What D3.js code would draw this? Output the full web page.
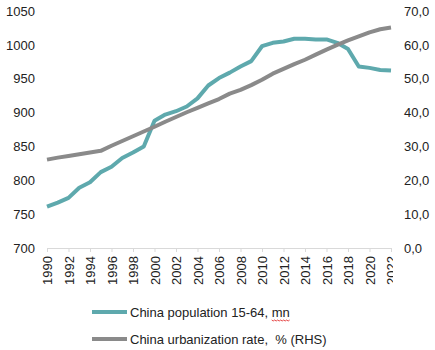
<!DOCTYPE html>
<html lang="en">
<head>
<meta charset="UTF-8">
<title>China population and urbanization</title>
<style>
body { margin: 0; background: #fff; }
svg { font-family: "Liberation Sans", Arial, sans-serif; }
.axis text { font-size: 13px; fill: #222; }
.legend text { font-size: 13px; fill: #222; }
</style>
</head>
<body>
<svg width="435" height="350"></svg>
<script src="https://cdn.jsdelivr.net/npm/d3@7/dist/d3.min.js"></script>
<script>
// data
const years = d3.range(1990, 2023);
const population = [761, 767, 774, 789, 797, 812, 820, 833, 841, 850,
    888, 897, 902, 909, 921, 940, 951, 959, 968, 976,
    998, 1003, 1005, 1009, 1009, 1008, 1008, 1003, 994, 968,
    966, 963, 962];
const urbanization = [26.1, 26.7, 27.2, 27.7, 28.2, 28.7, 30.2, 31.6, 33.0, 34.4,
    35.8, 37.3, 38.7, 40.1, 41.4, 42.7, 44.0, 45.6, 46.7, 48.1,
    49.7, 51.5, 52.9, 54.3, 55.6, 57.1, 58.6, 60.0, 61.3, 62.5,
    63.7, 64.6, 65.1];
const leftTicks = [700, 750, 800, 850, 900, 950, 1000, 1050];
const rightTicks = [0, 10, 20, 30, 40, 50, 60, 70];
const yearTicks = d3.range(1990, 2023, 2);
const seriesNames = ['China population 15-64, mn', 'China urbanization rate,  % (RHS)'];
const colors = ['#5ea9ad', '#8a8a8a'];

var svg = d3.select('svg');
var margin = { left: 47, right: 44, top: 11, bottom: 102 };
var width = 435 - margin.left - margin.right;
var height = 350 - margin.top - margin.bottom;

var x = d3.scaleLinear().domain([1990, 2022]).range([0, width]);
var yL = d3.scaleLinear().domain([700, 1050]).range([height, 0]);
var yR = d3.scaleLinear().domain([0, 70]).range([height, 0]);

svg.append('clipPath').attr('id', 'xclip')
    .append('rect')
    .attr('x', -20).attr('y', -5)
    .attr('width', width + 22).attr('height', 60);

var g = svg.append('g')
    .attr('transform', 'translate(' + margin.left + ',' + margin.top + ')');

// left axis labels
var left = g.append('g').attr('class', 'axis')
    .attr('transform', 'translate(-12,0)')
    .call(d3.axisLeft(yL).tickValues(leftTicks).tickSize(0).tickPadding(0).tickFormat(d3.format('d')));
left.select('.domain').remove();

// right axis labels
var right = g.append('g').attr('class', 'axis')
    .attr('transform', 'translate(' + (width + 13) + ',0)')
    .call(d3.axisRight(yR).tickValues(rightTicks).tickSize(0).tickPadding(0)
        .tickFormat(d => d3.format('.1f')(d).replace('.', ',')));
right.select('.domain').remove();

// bottom axis
var bottom = g.append('g').attr('class', 'axis')
    .attr('transform', 'translate(0,' + height + ')')
    .attr('clip-path', 'url(#xclip)')
    .call(d3.axisBottom(x).tickValues(yearTicks).tickSize(4).tickSizeOuter(0).tickFormat(d3.format('d')));
bottom.select('.domain').attr('stroke', '#d9d9d9');
bottom.selectAll('.tick line').attr('stroke', '#d9d9d9');
bottom.selectAll('text')
    .attr('transform', 'rotate(-90)')
    .attr('text-anchor', 'end')
    .attr('x', -8)
    .attr('y', 0)
    .attr('dy', '0.36em');

// lines
var lineL = d3.line().x((d, i) => x(years[i])).y(d => yL(d));
var lineR = d3.line().x((d, i) => x(years[i])).y(d => yR(d));

g.append('path')
    .datum(population)
    .attr('fill', 'none')
    .attr('stroke', colors[0])
    .attr('stroke-width', 4)
    .attr('stroke-linejoin', 'round')
    .attr('d', lineL);

g.append('path')
    .datum(urbanization)
    .attr('fill', 'none')
    .attr('stroke', colors[1])
    .attr('stroke-width', 4)
    .attr('stroke-linejoin', 'round')
    .attr('d', lineR);

// legend
var legend = svg.append('g').attr('class', 'legend');
var item = legend.selectAll('g')
    .data(seriesNames)
    .enter().append('g')
    .attr('transform', (d, i) => 'translate(92,' + (312 + i * 27) + ')');
item.append('line')
    .attr('x1', 0).attr('x2', 35)
    .attr('stroke', (d, i) => colors[i])
    .attr('stroke-width', 4);
item.append('text')
    .attr('x', 38)
    .attr('dy', '0.36em')
    .attr('xml:space', 'preserve')
    .text(d => d);

// spell-check squiggle under "mn"
var firstText = item.select('text').node();
var n = seriesNames[0].length;
var start = firstText.getSubStringLength(0, n - 2);
var w = firstText.getSubStringLength(n - 2, 2);
var sx = 92 + 38 + start;
var pts = [];
for (var k = 0; k <= Math.round(w / 1.5); k++) {
    pts.push([sx + k * 1.5, 312 + 8 + (k % 2 ? 1 : 0)]);
}
legend.append('path')
    .attr('d', d3.line()(pts))
    .attr('fill', 'none')
    .attr('stroke', '#e02020')
    .attr('stroke-width', 0.8);
</script>
</body>
</html>
